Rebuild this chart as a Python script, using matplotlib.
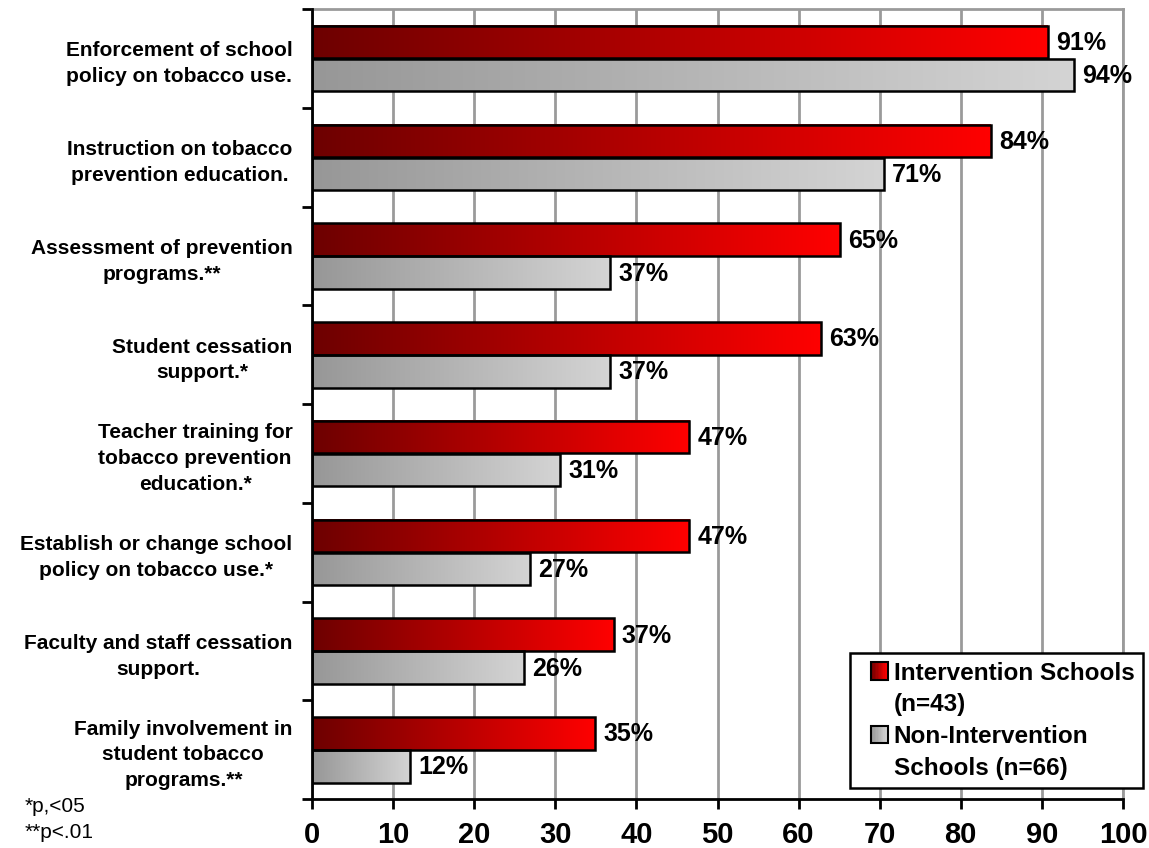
#
#   Tobacco prevention activities: intervention vs non-intervention schools
#

import numpy as np
import matplotlib
matplotlib.use('Agg')
import matplotlib.pyplot as plt
from matplotlib.colors import LinearSegmentedColormap
from matplotlib.patches import Rectangle
from matplotlib.legend_handler import HandlerBase

plt.rcParams['font.family'] = ['Liberation Sans', 'DejaVu Sans']

categories = [
    'Enforcement of school\npolicy on tobacco use.',
    'Instruction on tobacco\nprevention education.',
    'Assessment of prevention\nprograms.**',
    'Student cessation\nsupport.*',
    'Teacher training for\ntobacco prevention\neducation.*',
    'Establish or change school\npolicy on tobacco use.*',
    'Faculty and staff cessation\nsupport.',
    'Family involvement in\nstudent tobacco\nprograms.**',
]
intervention = [90.7, 83.7, 65.1, 62.8, 46.5, 46.5, 37.2, 34.9]
non_intervention = [93.9, 70.5, 36.8, 36.8, 30.6, 26.9, 26.1, 12.1]
intervention_labels = ['91%', '84%', '65%', '63%', '47%', '47%', '37%', '35%']
non_intervention_labels = ['94%', '71%', '37%', '37%', '31%', '27%', '26%', '12%']
legend_labels = ['Intervention Schools', '(n=43)', 'Non-Intervention', 'Schools (n=66)']
x_ticks = list(range(0, 101, 10))

red_cmap = LinearSegmentedColormap.from_list('reds', ['#6d0000', '#ff0000'])
gray_cmap = LinearSegmentedColormap.from_list('grays', ['#979797', '#d4d4d4'])
gradient = np.linspace(0, 1, 256).reshape(1, -1)

W, H = 1149, 848
fig = plt.figure(figsize=(W / 100, H / 100), dpi=100)
ax = fig.add_axes([312 / W, 49 / H, 811 / W, 790 / H])

BAR_H = 0.33


def gradient_bars(ys, values, labels, cmap):
    for y, v, lab in zip(ys, values, labels):
        ax.imshow(gradient, extent=(0, v, y + BAR_H / 2, y - BAR_H / 2),
                  aspect='auto', cmap=cmap, zorder=2, interpolation='bicubic')
        ax.text(v + 1.0, y + 0.01, lab, va='center', ha='left',
                fontsize=18, fontweight='bold', zorder=4)
    ax.barh(ys, values, height=BAR_H, fill=False, edgecolor='black',
            linewidth=1.8, zorder=3)


pos = np.arange(len(categories))
gradient_bars(pos + 0.335, intervention, intervention_labels, red_cmap)
gradient_bars(pos + 0.67, non_intervention, non_intervention_labels, gray_cmap)

ax.set_xlim(0, 100)
ax.set_ylim(len(categories), 0)
ax.set_xticks(x_ticks)
ax.set_xticklabels([str(t) for t in x_ticks], fontsize=21, fontweight='bold')
ax.tick_params(axis='x', direction='out', length=7, width=2, pad=9)

ax.set_yticks(pos + 0.5)
ax.set_yticklabels(categories, fontsize=15, fontweight='bold',
                   multialignment='center', linespacing=1.45)
ax.set_yticks(np.arange(len(categories) + 1), minor=True)
ax.tick_params(axis='y', which='major', length=0, pad=14)
ax.tick_params(axis='y', which='minor', direction='out', length=7, width=2)

ax.grid(axis='x', color='#9a9a9a', linewidth=2)
ax.set_axisbelow(True)
for side in ['left', 'bottom']:
    ax.spines[side].set_linewidth(2)
    ax.spines[side].set_color('black')
    ax.spines[side].set_zorder(5)
for side in ['top', 'right']:
    ax.spines[side].set_linewidth(2)
    ax.spines[side].set_color('#9a9a9a')


class GradientHandler(HandlerBase):
    def __init__(self, cmap):
        super().__init__()
        self.cmap = cmap

    def create_artists(self, legend, orig_handle, xdescent, ydescent,
                       width, height, fontsize, trans):
        side = 0.7 * fontsize
        # square sits at the right end of the handle box
        x0 = -xdescent + width - side
        y0 = -ydescent + (height - side) / 2
        if self.cmap is None:
            return [Rectangle((x0, y0), side, side, fill=False,
                              edgecolor='none', transform=trans)]
        n = 12
        artists = []
        for k in range(n):
            artists.append(Rectangle((x0 + k * side / n, y0), side / n, side,
                                     facecolor=self.cmap(k / (n - 1)),
                                     edgecolor='none', transform=trans))
        artists.append(Rectangle((x0, y0), side, side, fill=False,
                                 edgecolor='black', linewidth=1.5,
                                 transform=trans))
        return artists


handles = [Rectangle((0, 0), 1, 1) for _ in range(4)]
handler_map = {handles[0]: GradientHandler(red_cmap),
               handles[1]: GradientHandler(None),
               handles[2]: GradientHandler(gray_cmap),
               handles[3]: GradientHandler(None)}
leg = fig.legend(handles, legend_labels, handler_map=handler_map,
                 loc='upper left', bbox_to_anchor=(850 / W, 1 - 653 / H),
                 bbox_transform=fig.transFigure,
                 prop={'size': 17.5, 'weight': 'bold'}, frameon=True,
                 fancybox=False, edgecolor='black', framealpha=1,
                 handlelength=1.2, handleheight=0.7, handletextpad=0.25,
                 labelspacing=0.36, borderpad=0.35, borderaxespad=0)
leg.get_frame().set_linewidth(1.8)

fig.text(25 / W, 1 - 807 / H, '*p,<05', fontsize=15, va='center', ha='left')
fig.text(25 / W, 1 - 832 / H, '**p<.01', fontsize=15, va='center', ha='left')

fig.savefig('out.png', dpi=100)
